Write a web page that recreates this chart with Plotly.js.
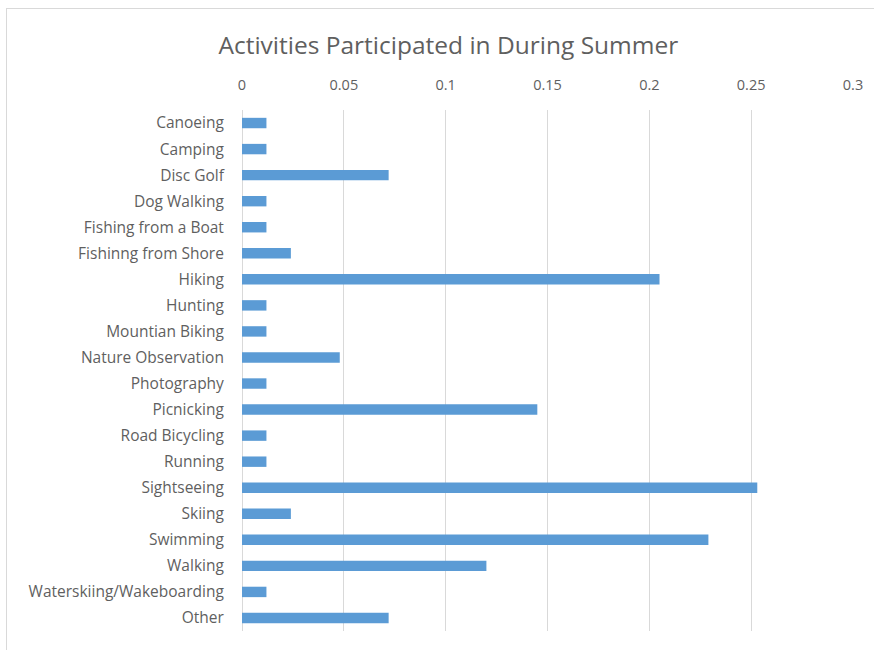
<!DOCTYPE html>
<html>
<head>
<meta charset="utf-8">
<script src="https://cdn.plot.ly/plotly-3.0.1.min.js"></script>
<style>
  body { margin: 0; padding: 0; background: #ffffff; }
  #chart { width: 874px; height: 650px; position: absolute; left: 0; top: 0; }
  #frame { position: absolute; left: 6px; top: 8px; width: 880px; height: 660px; border: 1px solid #d9d9d9; pointer-events: none; }
</style>
</head>
<body>
<div id="chart"></div>
<div id="frame"></div>
<script>
const categories = [
  "Canoeing", "Camping", "Disc Golf", "Dog Walking", "Fishing from a Boat",
  "Fishinng from Shore", "Hiking", "Hunting", "Mountian Biking", "Nature Observation",
  "Photography", "Picnicking", "Road Bicycling", "Running", "Sightseeing",
  "Skiing", "Swimming", "Walking", "Waterskiing/Wakeboarding", "Other"
];
const shares = [
  0.012, 0.012, 0.072, 0.012, 0.012,
  0.024, 0.205, 0.012, 0.012, 0.048,
  0.012, 0.145, 0.012, 0.012, 0.253,
  0.024, 0.229, 0.120, 0.012, 0.072
];
const tickValues = [0, 0.05, 0.1, 0.15, 0.2, 0.25, 0.3];
const tickLabels = ["0", "0.05", "0.1", "0.15", "0.2", "0.25", "0.3"];
const chartTitle = "Activities Participated in During Summer";

const fontFamily = "Open Sans, Lato, Liberation Sans, sans-serif";
const textColor = "#5f5f5f";

const trace = {
  type: "bar",
  orientation: "h",
  x: shares,
  y: categories,
  marker: { color: "#5b9bd5" },
  width: 0.4,
  hoverinfo: "x+y"
};

const layout = {
  width: 874,
  height: 650,
  paper_bgcolor: "#ffffff",
  plot_bgcolor: "#ffffff",
  margin: { l: 242, r: 21, t: 110, b: 19 },
  showlegend: false,
  title: {
    text: chartTitle,
    font: { family: fontFamily, size: 24.5, color: textColor },
    x: 0.513,
    xanchor: "center",
    y: 0.93,
    yanchor: "middle"
  },
  xaxis: {
    side: "top",
    range: [0, 0.3],
    tickvals: tickValues,
    ticktext: tickLabels,
    showgrid: true,
    gridcolor: "#d9d9d9",
    gridwidth: 1,
    zeroline: true,
    zerolinecolor: "#d9d9d9",
    showline: false,
    ticks: "outside",
    ticklen: 13,
    tickcolor: "rgba(0,0,0,0)",
    tickfont: { family: fontFamily, size: 14.5, color: textColor },
    fixedrange: true
  },
  yaxis: {
    type: "category",
    autorange: "reversed",
    showgrid: false,
    zeroline: false,
    showline: false,
    ticks: "outside",
    ticklen: 14,
    tickcolor: "rgba(0,0,0,0)",
    tickfont: { family: fontFamily, size: 15.5, color: textColor },
    fixedrange: true
  },
  bargap: 0.6
};

Plotly.newPlot("chart", [trace], layout, { displayModeBar: false, staticPlot: true });
</script>
</body>
</html>
